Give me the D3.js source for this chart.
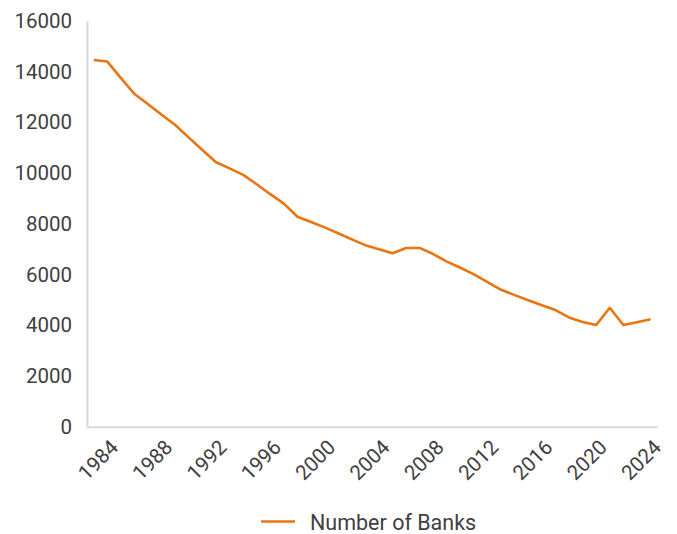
<!DOCTYPE html>
<html>
<head>
<meta charset="utf-8">
<script src="https://cdn.jsdelivr.net/npm/d3@7"></script>
<style>
  html, body { margin: 0; padding: 0; background: #ffffff; }
  svg { display: block; }
  text { font-family: Roboto, "Noto Sans", sans-serif; fill: #404040; }
</style>
</head>
<body>
<svg id="chart" width="677" height="534"></svg>
<script>
// ---- data ----
const years = [1983,1984,1985,1986,1987,1988,1989,1990,1991,1992,1993,1994,1995,1996,1997,1998,1999,2000,2001,2002,2003,2004,2005,2006,2007,2008,2009,2010,2011,2012,2013,2014,2015,2016,2017,2018,2019,2020,2021,2022,2023,2024];
const banks = [14460,14400,13750,13120,12720,12300,11900,11400,10910,10430,10190,9930,9560,9170,8800,8280,8070,7860,7630,7390,7160,7000,6840,7050,7050,6810,6510,6270,6010,5700,5400,5190,4990,4790,4600,4310,4130,4010,4690,4010,4120,4240];
const yTicks = [0,2000,4000,6000,8000,10000,12000,14000,16000];
const xLabels = [1984,1988,1992,1996,2000,2004,2008,2012,2016,2020,2024];
const seriesName = "Number of Banks";

// ---- layout ----
const svg = d3.select("#chart");
const plotL = 87, plotR = 657.3, plotT = 21, plotB = 426.7;
const lineColor = "#E8750F";
const axisColor = "#d9d9d9";

const x = d3.scaleBand().domain(years).range([plotL, plotR]).padding(0);
const y = d3.scaleLinear().domain([0, 16000]).range([plotB, plotT]);

// y axis
const gy = svg.append("g").attr("transform", `translate(${plotL},0)`)
  .call(d3.axisLeft(y).tickValues(yTicks).tickSize(0).tickSizeOuter(0).tickPadding(15).tickFormat(d3.format("d")));
gy.select(".domain").attr("stroke", axisColor).attr("stroke-width", 2);
gy.selectAll("text").attr("font-size", 20.5).attr("font-family", "Roboto, sans-serif").attr("fill", "#404040");

// x axis
const gx = svg.append("g").attr("transform", `translate(0,${plotB})`)
  .call(d3.axisBottom(x).tickValues(xLabels).tickSize(0).tickSizeOuter(0).tickFormat(d3.format("d")));
gx.select(".domain").attr("stroke", axisColor).attr("stroke-width", 2);
gx.selectAll(".tick text")
  .attr("font-size", 20.5)
  .attr("font-family", "Roboto, sans-serif")
  .attr("fill", "#404040")
  .attr("text-anchor", "end")
  .attr("dy", null)
  .attr("y", null)
  .attr("transform", "translate(12,22) rotate(-45)");

// line
const line = d3.line()
  .x((d, i) => x(years[i]) + x.bandwidth() / 2)
  .y(d => y(d));
svg.append("path")
  .datum(banks)
  .attr("fill", "none")
  .attr("stroke", lineColor)
  .attr("stroke-width", 2.6)
  .attr("stroke-linejoin", "round")
  .attr("d", line);

// legend
const lg = svg.append("g").attr("transform", "translate(261,521.5)");
lg.append("line").attr("x1", 0).attr("x2", 34).attr("y1", 0).attr("y2", 0)
  .attr("stroke", lineColor).attr("stroke-width", 2.6);
lg.append("text").attr("x", 49).attr("y", 8).attr("font-size", 21.5).text(seriesName);
</script>
</body>
</html>
